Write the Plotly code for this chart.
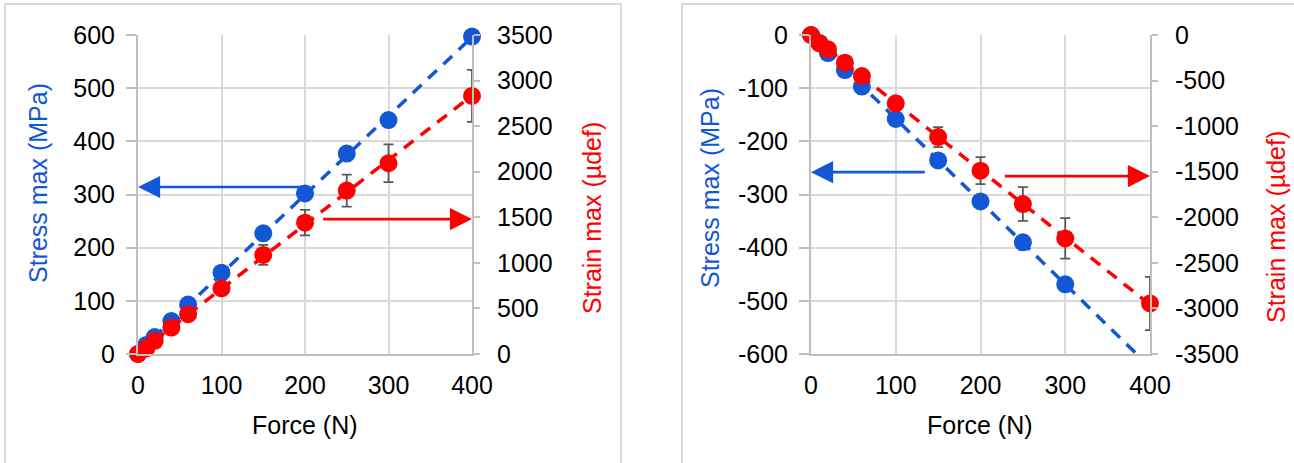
import numpy as np
import plotly.graph_objects as go
from plotly.subplots import make_subplots

# ---- data ----
force = [0, 10, 20, 40, 60, 100, 150, 200, 250, 300, 400]

# left chart (tension)
stress_left = [0, 17, 32, 62, 93, 153, 227, 302, 377, 440, 597]
strain_left = [0, 62, 145, 290, 436, 721, 1087, 1441, 1793, 2093, 2832]
strain_left_err = [0, 10, 15, 20, 30, 50, 110, 140, 175, 207, 285]

# right chart (compression)
stress_right = [0, -15, -34, -66, -97, -158, -236, -313, -390, -469, None]
strain_right = [0, -91, -157, -304, -450, -750, -1120, -1489, -1855, -2232, -2945]
strain_right_err = [0, 10, 15, 20, 30, 66, 110, 148, 185, 222, 292]

x_ticks = [0, 100, 200, 300, 400]
left_stress_ticks = [0, 100, 200, 300, 400, 500, 600]
left_strain_ticks = [0, 500, 1000, 1500, 2000, 2500, 3000, 3500]
right_stress_ticks = [0, -100, -200, -300, -400, -500, -600]
right_strain_ticks = [0, -500, -1000, -1500, -2000, -2500, -3000, -3500]

BLUE = "#1257d6"
RED = "#ff0000"
GRID = "#d9d9d9"
AXIS = "#bfbfbf"
FONT = "Liberation Sans, Arial, sans-serif"
FS = 25


def lbl(v):
    return str(v).replace("\u2212", "-")


def fit(xs, ys):
    pairs = [(a, b) for a, b in zip(xs, ys) if b is not None]
    xa = np.array([p[0] for p in pairs], float)
    ya = np.array([p[1] for p in pairs], float)
    k, c = np.polyfit(xa, ya, 1)
    xx = np.array([0, 400], float)
    return xx, k * xx + c


fig = make_subplots(rows=1, cols=2, specs=[[{"secondary_y": True}, {"secondary_y": True}]])

W, H = 1294, 463


def px_x(p):
    return p / W


def px_y(p):
    return 1 - p / H


for col, st, sn, er in [(1, stress_left, strain_left, strain_left_err),
                         (2, stress_right, strain_right, strain_right_err)]:
    fx, fy = fit(force, st)
    fig.add_trace(go.Scatter(x=fx, y=fy, mode="lines",
                             line=dict(color=BLUE, width=3.5, dash="12px,9px"),
                             showlegend=False, hoverinfo="skip"),
                  row=1, col=col, secondary_y=False)
    xs = [f for f, v in zip(force, st) if v is not None]
    ys = [v for v in st if v is not None]
    fig.add_trace(go.Scatter(x=xs, y=ys, mode="markers",
                             marker=dict(color=BLUE, size=18),
                             cliponaxis=False, showlegend=False),
                  row=1, col=col, secondary_y=False)
    gx, gy = fit(force, sn)
    fig.add_trace(go.Scatter(x=gx, y=gy, mode="lines",
                             line=dict(color=RED, width=3.5, dash="12px,9px"),
                             showlegend=False, hoverinfo="skip"),
                  row=1, col=col, secondary_y=True)
    fig.add_trace(go.Scatter(x=force, y=sn, mode="markers",
                             marker=dict(color=RED, size=18),
                             error_y=dict(type="data", array=er, visible=True,
                                          color="#595959", thickness=1.8, width=5),
                             cliponaxis=False, showlegend=False),
                  row=1, col=col, secondary_y=True)

# domains (pixel based layout)
left_dom = [px_x(138), px_x(472)]
right_dom = [px_x(811), px_x(1150)]
y_dom = [px_y(354), px_y(35)]

xcommon = dict(range=[0, 400], tickvals=x_ticks, ticktext=[lbl(v) for v in x_ticks],
               showgrid=True, gridcolor=GRID, gridwidth=2, zeroline=False,
               showline=True, linecolor=AXIS, linewidth=2, ticks="",
               tickfont=dict(family=FONT, size=FS, color="#000"),
               ticklabelstandoff=8, automargin=False)

fig.update_layout(
    template="none",
    width=W, height=H, margin=dict(l=0, r=0, t=0, b=0, pad=0),
    paper_bgcolor="white", plot_bgcolor="white",
    font=dict(family=FONT, size=FS, color="#000"),
    xaxis=dict(domain=left_dom, anchor="y", **xcommon),
    xaxis2=dict(domain=right_dom, anchor="y3", **xcommon),
)


def yprim(ticks, rng):
    return dict(range=rng, tickvals=ticks, ticktext=[lbl(v) for v in ticks],
                showgrid=True, gridcolor=GRID, gridwidth=2, zeroline=False,
                showline=True, linecolor=AXIS, linewidth=2,
                ticks="outside", ticklen=10, tickcolor=AXIS, tickwidth=2,
                tickfont=dict(family=FONT, size=FS, color="#000"),
                ticklabelstandoff=6, domain=y_dom, automargin=False)


def ysec(ticks, rng):
    return dict(range=rng, tickvals=ticks, ticktext=[lbl(v) for v in ticks],
                showgrid=False, zeroline=False,
                showline=True, linecolor=AXIS, linewidth=2,
                ticks="outside", ticklen=6, tickcolor=AXIS, tickwidth=2,
                tickfont=dict(family=FONT, size=FS, color="#000"),
                ticklabelstandoff=12, automargin=False)


fig.update_layout(
    yaxis=yprim(left_stress_ticks, [0, 600]),
    yaxis2=ysec(left_strain_ticks, [0, 3500]),
    yaxis3=yprim(right_stress_ticks, [-600, 0]),
    yaxis4=ysec(right_strain_ticks, [-3500, 0]),
)

# frames
for x0, x1 in [(5, 621), (682, 1310)]:
    fig.add_shape(type="rect", xref="paper", yref="paper",
                  x0=px_x(x0), x1=px_x(x1), y0=px_y(480), y1=px_y(4),
                  line=dict(color=GRID, width=2), fillcolor="rgba(0,0,0,0)", layer="below")

# axis titles
titles = [
    ("Force (N)", 305, 425, 0, "#000"),
    ("Force (N)", 980.5, 425, 0, "#000"),
    ("Stress max (MPa)", 38, 183, -90, BLUE),
    ("Strain max (µdef)", 592, 218, -90, RED),
    ("Stress max (MPa)", 710, 188, -90, BLUE),
    ("Strain max (µdef)", 1276, 227, -90, RED),
]
for t, x, y, ang, c in titles:
    fig.add_annotation(text=t, xref="paper", yref="paper", x=px_x(x), y=px_y(y),
                       xanchor="center", yanchor="middle", textangle=ang,
                       showarrow=False, font=dict(family=FONT, size=FS, color=c))

# arrows
arrows = [
    ("x", "y", 0, 314, 200, 314, BLUE),
    ("x", "y2", 400, 1480, 220, 1480, RED),
    ("x2", "y3", 0, -258, 136, -258, BLUE),
    ("x2", "y4", 400, -1548, 227, -1548, RED),
]
for xr, yr, hx, hy, tx, ty, c in arrows:
    fig.add_annotation(x=hx, y=hy, ax=tx, ay=ty, xref=xr, yref=yr, axref=xr, ayref=yr,
                       showarrow=True, arrowhead=2, arrowsize=1.7, arrowwidth=2.6,
                       arrowcolor=c, text="")

fig.write_html("out.html", config={"displayModeBar": False},
               post_script="document.body.style.margin='0';document.body.style.overflow='hidden';"
                           "document.documentElement.style.overflow='hidden';")
